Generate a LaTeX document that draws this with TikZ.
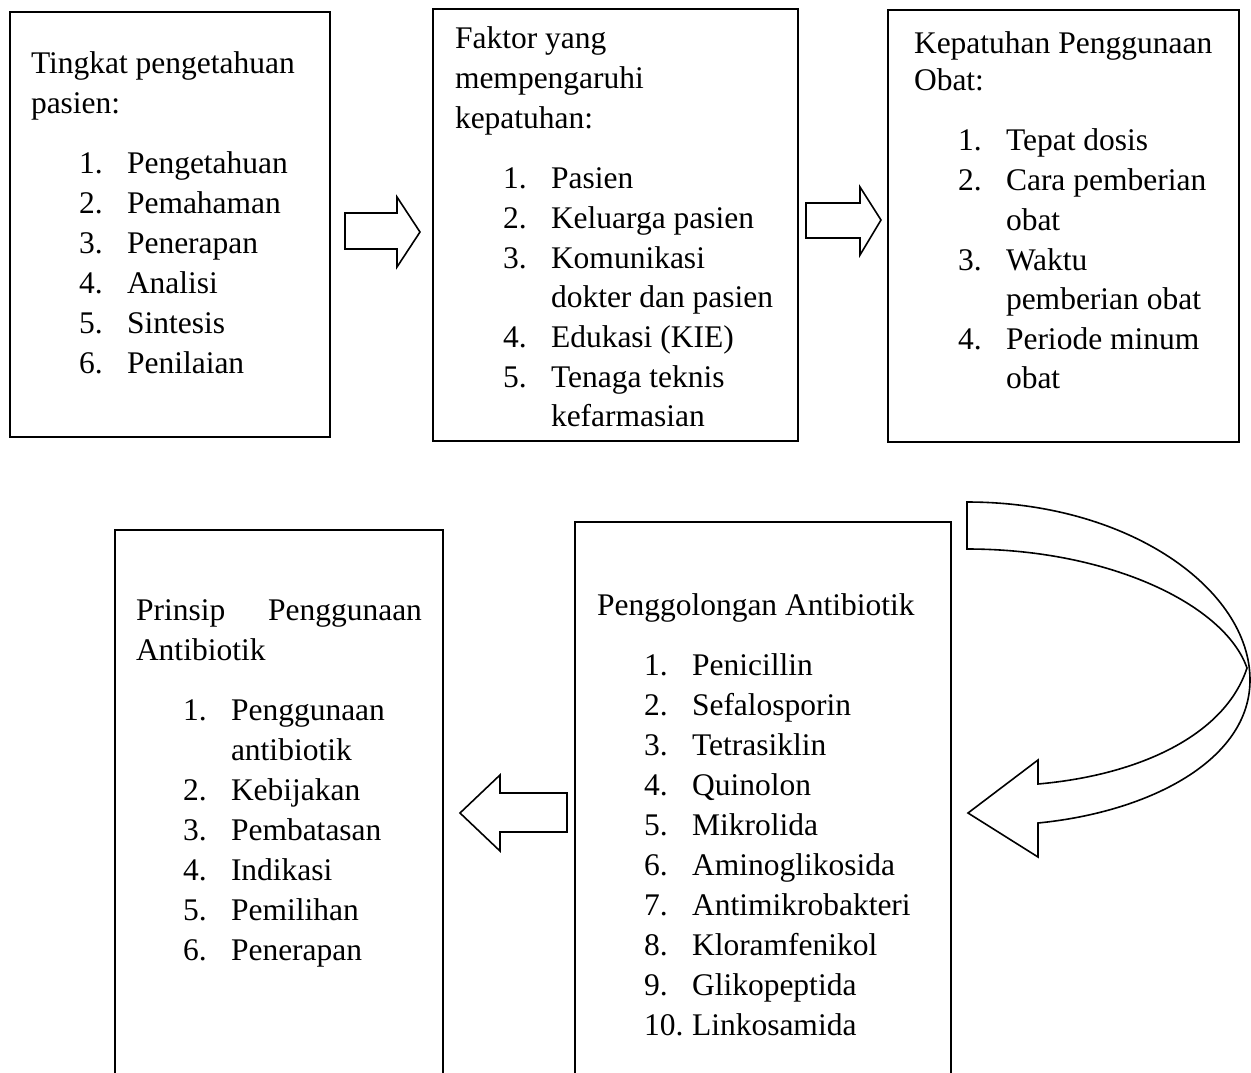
\documentclass[tikz,border=0pt]{standalone}
\usepackage{fontspec}
\setmainfont{Liberation Serif}
\begin{document}
\begin{tikzpicture}[x=1pt,y=-1pt,
  box/.style={draw, line width=1.6pt, inner sep=0, outer sep=0, anchor=north west},
  txt/.style={anchor=base west, inner sep=0, outer sep=0, font=\fontsize{31.5}{40}\selectfont},
  blockarrow/.style={draw, line width=1.6pt, line join=miter, fill=white}]
\clip (0,0) rectangle (1251,1072);
% boxes
\node[box, minimum width=320pt, minimum height=425pt] (b1) at (10,12) {};
\node[box, minimum width=365pt, minimum height=432pt] (b2) at (433,9) {};
\node[box, minimum width=351pt, minimum height=432pt] (b3) at (888,10) {};
\node[box, minimum width=328pt, minimum height=560pt] (b4) at (115,530) {};
\node[box, minimum width=376pt, minimum height=570pt] (b5) at (575,522) {};
% box 1
\node[txt] (b1t1) at (31,73) {Tingkat pengetahuan};
\node[txt] (b1t2) at (31,113) {pasien:};
\foreach \t [count=\k] in {Pengetahuan,Pemahaman,Penerapan,Analisi,Sintesis,Penilaian}{
  \node[txt] (b1n\k) at (79,133+40*\k) {\k.};
  \node[txt] (b1i\k) at (127,133+40*\k) {\t};
}
% box 2
\node[txt] (b2t1) at (455,48) {Faktor yang};
\node[txt] (b2t2) at (455,88) {mempengaruhi};
\node[txt] (b2t3) at (455,128) {kepatuhan:};
\foreach \n/\t/\y [count=\k] in {1./Pasien/188,2./Keluarga pasien/228,3./Komunikasi/268,/dokter dan pasien/307,4./Edukasi (KIE)/347,5./Tenaga teknis/387,/kefarmasian/426}{
  \node[txt] (b2n\k) at (503,\y) {\n};
  \node[txt] (b2i\k) at (551,\y) {\t};
}
% box 3
\node[txt] (b3t1) at (914,53) {Kepatuhan Penggunaan};
\node[txt] (b3t2) at (914,90) {Obat:};
\foreach \n/\t/\y [count=\k] in {1./Tepat dosis/150,2./Cara pemberian/190,/obat/230,3./Waktu/270,/pemberian obat/309,4./Periode minum/349,/obat/388}{
  \node[txt] (b3n\k) at (958,\y) {\n};
  \node[txt] (b3i\k) at (1006,\y) {\t};
}
% box 4
\node[txt] (b4t1) at (136,620) {\makebox[286pt][s]{Prinsip Penggunaan}};
\node[txt] (b4t2) at (136,660) {Antibiotik};
\foreach \n/\t/\y [count=\k] in {1./Penggunaan/720,/antibiotik/760,2./Kebijakan/800,3./Pembatasan/840,4./Indikasi/880,5./Pemilihan/920,6./Penerapan/960}{
  \node[txt] (b4n\k) at (183,\y) {\n};
  \node[txt] (b4i\k) at (231,\y) {\t};
}
% box 5
\node[txt] (b5t1) at (597,615) {Penggolongan Antibiotik};
\foreach \t [count=\k] in {Penicillin,Sefalosporin,Tetrasiklin,Quinolon,Mikrolida,Aminoglikosida,Antimikrobakteri,Kloramfenikol,Glikopeptida}{
  \node[txt] (b5n\k) at (644,635+40*\k) {\k.};
  \node[txt] (b5i\k) at (692,635+40*\k) {\t};
}
\node[txt] (b5n10) at (644,1035) {10.};
\node[txt] (b5i10) at (692,1035) {Linkosamida};
% block arrows
\draw[blockarrow] (345,213) -- (397,213) -- (397,197) -- (420,232) -- (397,267) -- (397,249) -- (345,249) -- cycle;
\draw[blockarrow] (806,203) -- (860,203) -- (860,187) -- (881,220) -- (860,255) -- (860,238) -- (806,238) -- cycle;
\draw[blockarrow] (567,793) -- (500,793) -- (500,775) -- (460,813) -- (500,851) -- (500,832) -- (567,832) -- cycle;
% curved arrow
\draw[line width=1.6pt, line join=miter]
  (1038,823) .. controls (1150,812) and (1250,760) .. (1250,680)
  .. controls (1250,590) and (1130,502) .. (967,502)
  -- (967,549)
  .. controls (1110,549) and (1225,605) .. (1247,668)
  .. controls (1225,735) and (1140,775) .. (1038,784)
  -- (1038,760) -- (968,813) -- (1038,857) -- cycle;
\end{tikzpicture}
\end{document}
